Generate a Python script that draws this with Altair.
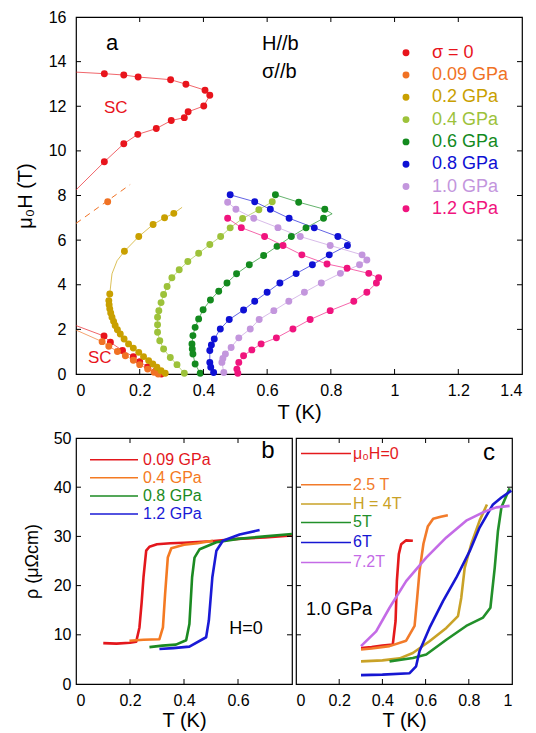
import pandas as pd
import altair as alt

FONT = "Liberation Sans"

# ---------------- panel a : H-T diagram for each uniaxial stress ----------------
SERIES_A = ["σ = 0", "0.09 GPa", "0.2 GPa", "0.4 GPa", "0.6 GPa", "0.8 GPa", "1.0 GPa", "1.2 GPa"]
COLORS_A = ["#e8141c", "#f07224", "#c9a000", "#9dc23a", "#138a1e", "#0e10d4", "#c396dd", "#f0147e"]

# sigma = 0, upper branch (curve runs on to the T = 0 axis at both ends)
s0_up_T = [0.0, 0.089, 0.150, 0.195, 0.297, 0.345, 0.405, 0.420, 0.401, 0.352, 0.340, 0.299, 0.252, 0.194, 0.150, 0.089, 0.0]
s0_up_H = [13.53, 13.46, 13.40, 13.31, 13.19, 12.99, 12.72, 12.49, 12.01, 11.75, 11.49, 11.36, 11.00, 10.74, 10.32, 9.51, 8.25]
s0_up_dot = [0] + [1] * 15 + [0]
# sigma = 0, low field branch
s0_lo_T = [0.0, 0.088, 0.108, 0.146, 0.180, 0.200, 0.225, 0.250, 0.268]
s0_lo_H = [2.17, 1.70, 1.42, 1.05, 0.78, 0.55, 0.32, 0.12, 0.0]
s0_lo_dot = [0] + [1] * 8
# 0.09 GPa
s1_lo_T = [0.0, 0.082, 0.103, 0.130, 0.155, 0.180, 0.200, 0.225, 0.245, 0.258]
s1_lo_H = [1.97, 1.45, 1.24, 1.01, 0.82, 0.62, 0.42, 0.22, 0.08, 0.0]
s1_lo_dot = [0] + [1] * 9
s1_dash_T = [0.0, 0.170]
s1_dash_H = [6.75, 8.49]
s1_pt_T = [0.0995]
s1_pt_H = [7.72]
# 0.2 GPa
s2_T = [0.333, 0.307, 0.278, 0.242, 0.197, 0.152, 0.129, 0.113, 0.106, 0.103, 0.104, 0.106, 0.109, 0.113, 0.118,
        0.123, 0.130, 0.139, 0.151, 0.165, 0.180, 0.197, 0.212, 0.228, 0.241, 0.254, 0.267, 0.280]
s2_H = [7.47, 7.20, 7.00, 6.70, 6.16, 5.50, 5.08, 4.49, 3.59, 3.29, 3.10, 2.92, 2.73, 2.54, 2.36,
        2.17, 1.98, 1.79, 1.57, 1.35, 1.16, 0.97, 0.78, 0.60, 0.45, 0.30, 0.15, 0.03]
s2_dot = [0, 1, 1, 1, 1, 1, 0, 0] + [1] * 20
# 0.4 GPa
s3_T = [0.616, 0.574, 0.523, 0.484, 0.454, 0.420, 0.385, 0.351, 0.324, 0.301, 0.286, 0.275, 0.267, 0.260,
        0.256, 0.256, 0.256, 0.263, 0.275, 0.296, 0.317, 0.340]
s3_H = [7.72, 7.36, 6.97, 6.55, 6.16, 5.80, 5.41, 5.04, 4.67, 4.31, 3.92, 3.56, 3.20, 2.84,
        2.54, 2.21, 1.87, 1.49, 1.12, 0.74, 0.42, 0.03]
# 0.6 GPa
s4_T = [0.626, 0.699, 0.781, 0.804, 0.777, 0.722, 0.676, 0.631, 0.589, 0.544, 0.504, 0.474, 0.448, 0.422,
        0.399, 0.385, 0.374, 0.367, 0.364, 0.365, 0.367, 0.374, 0.390]
s4_H = [8.03, 7.70, 7.38, 7.18, 6.98, 6.55, 6.16, 5.72, 5.31, 4.90, 4.49, 4.08, 3.71, 3.32,
        2.88, 2.47, 2.09, 1.72, 1.35, 1.12, 0.90, 0.45, 0.03]
s4_dot = [1, 1, 1, 0] + [1] * 19
# 0.8 GPa
s5_T = [0.484, 0.561, 0.610, 0.669, 0.748, 0.822, 0.861, 0.852, 0.795, 0.742, 0.691, 0.640, 0.600, 0.561,
        0.526, 0.481, 0.453, 0.434, 0.425, 0.420, 0.420, 0.423, 0.432]
s5_H = [8.03, 7.72, 7.38, 6.98, 6.55, 6.16, 5.90, 5.76, 5.34, 4.90, 4.50, 4.08, 3.66, 3.26,
        2.87, 2.44, 2.02, 1.57, 1.30, 1.05, 0.52, 0.30, 0.07]
s5_dot = [1] * 6 + [0] + [1] * 16
# 1.0 GPa
s6_T = [0.476, 0.502, 0.558, 0.634, 0.704, 0.798, 0.898, 0.913, 0.890, 0.830, 0.770, 0.717, 0.668, 0.621,
        0.575, 0.547, 0.511, 0.487, 0.469, 0.461, 0.458, 0.464]
s6_H = [7.70, 7.38, 6.98, 6.56, 6.16, 5.76, 5.34, 5.11, 4.90, 4.51, 4.08, 3.66, 3.26, 2.84,
        2.44, 2.02, 1.62, 1.19, 0.90, 0.70, 0.52, 0.07]
# 1.2 GPa
s7_T = [0.476, 0.519, 0.592, 0.650, 0.709, 0.788, 0.851, 0.919, 0.950, 0.943, 0.913, 0.872, 0.798, 0.735,
        0.681, 0.629, 0.581, 0.552, 0.526, 0.511, 0.505, 0.508]
s7_H = [6.98, 6.56, 6.16, 5.76, 5.34, 4.93, 4.74, 4.51, 4.31, 4.08, 3.66, 3.26, 2.84, 2.44,
        2.02, 1.62, 1.35, 1.08, 0.82, 0.52, 0.22, 0.03]

A_XTICKS = [0, 0.2, 0.4, 0.6, 0.8, 1.0, 1.2, 1.4]
A_YTICKS = [0, 2, 4, 6, 8, 10, 12, 14, 16]

# ---------------- panel b : rho(T) at H = 0 for several stresses ----------------
SERIES_B = ["0.09 GPa", "0.4 GPa", "0.8 GPa", "1.2 GPa"]
COLORS_B = ["#e3171d", "#f47a22", "#1b8a22", "#1a1ad6"]
b0_T = [0.101, 0.150, 0.200, 0.223, 0.235, 0.243, 0.250, 0.260, 0.272, 0.300, 0.350, 0.400, 0.500, 0.600, 0.700, 0.800]
b0_R = [8.3, 8.2, 8.4, 8.6, 11.5, 16.5, 21.7, 27.1, 27.9, 28.4, 28.6, 28.7, 29.0, 29.5, 29.8, 30.2]
b1_T = [0.198, 0.250, 0.309, 0.322, 0.330, 0.340, 0.353, 0.400, 0.450, 0.507]
b1_R = [8.8, 9.0, 9.1, 11.5, 18.3, 25.7, 27.6, 28.3, 28.6, 29.1]
b2_T = [0.272, 0.320, 0.370, 0.408, 0.420, 0.430, 0.439, 0.458, 0.520, 0.600, 0.700, 0.800]
b2_R = [7.5, 7.8, 8.0, 8.9, 12.2, 21.7, 25.7, 27.4, 28.8, 29.5, 30.0, 30.5]
b3_T = [0.309, 0.360, 0.420, 0.482, 0.492, 0.505, 0.520, 0.544, 0.606, 0.680]
b3_R = [7.1, 7.3, 7.6, 9.5, 12.9, 21.7, 27.1, 29.1, 30.4, 31.3]

# ---------------- panel c : rho(T) at 1.0 GPa for several fields ----------------
SERIES_C = ["μ₀H=0", "2.5 T", "H = 4T", "5T", "6T", "7.2T"]
COLORS_C = ["#e41a1c", "#f27b2a", "#c9a227", "#22902a", "#1616d2", "#c46be6"]
c0_T = [0.301, 0.350, 0.400, 0.448, 0.461, 0.467, 0.476, 0.487, 0.510, 0.541]
c0_R = [7.3, 7.5, 7.8, 8.0, 12.8, 20.9, 26.4, 28.4, 29.2, 29.1]
c1_T = [0.301, 0.350, 0.433, 0.510, 0.549, 0.560, 0.572, 0.590, 0.610, 0.635, 0.670, 0.703]
c1_R = [7.0, 7.2, 7.7, 8.8, 11.8, 17.0, 23.0, 28.5, 32.0, 33.6, 34.0, 34.3]
c2_T = [0.301, 0.400, 0.480, 0.541, 0.618, 0.696, 0.750, 0.765, 0.781, 0.811, 0.850, 0.884]
c2_R = [4.6, 4.8, 5.2, 6.3, 8.7, 11.4, 13.8, 17.5, 23.6, 28.4, 33.2, 36.5]
c3_T = [0.433, 0.541, 0.603, 0.696, 0.788, 0.866, 0.900, 0.920, 0.935, 0.951, 0.989]
c3_R = [4.6, 5.3, 6.0, 9.0, 11.8, 13.5, 15.5, 23.6, 31.1, 35.9, 39.8]
c4_T = [0.301, 0.400, 0.526, 0.556, 0.572, 0.618, 0.680, 0.742, 0.804, 0.850, 0.912, 0.951, 0.997]
c4_R = [1.8, 1.9, 2.2, 3.6, 6.7, 11.4, 16.8, 21.6, 27.0, 31.8, 36.5, 37.9, 39.3]
c5_T = [0.301, 0.371, 0.433, 0.510, 0.603, 0.696, 0.788, 0.866, 0.927, 0.989]
c5_R = [7.7, 10.7, 15.5, 20.9, 25.7, 29.8, 33.2, 34.9, 35.9, 36.2]

R_TICKS = [0, 10, 20, 30, 40, 50]


def branch(series, name, T, V, dots=None):
    if dots is None:
        dots = [1] * len(T)
    return pd.DataFrame({"s": series, "b": name, "i": range(len(T)), "T": T, "V": V, "dot": dots})


def note(text, x, y, size, color="black", align="left"):
    return alt.Chart(pd.DataFrame({"t": [text]})).mark_text(
        align=align, baseline="middle", fontSize=size, font=FONT, color=color
    ).encode(text="t:N", x=alt.value(x), y=alt.value(y))


def inner_ticks(X, Y, xt, yt, w, h):
    # inward ticks on every side of the frame, as in the figure
    dx = pd.DataFrame({"v": xt})
    dy = pd.DataFrame({"v": yt})
    return [
        alt.Chart(dx).mark_rule(color="black").encode(x=X("v"), y=alt.value(h), y2=alt.value(h - 5)),
        alt.Chart(dx).mark_rule(color="black").encode(x=X("v"), y=alt.value(0), y2=alt.value(5)),
        alt.Chart(dy).mark_rule(color="black").encode(y=Y("v"), x=alt.value(0), x2=alt.value(5)),
        alt.Chart(dy).mark_rule(color="black").encode(y=Y("v"), x=alt.value(w), x2=alt.value(w - 5)),
    ]


# ---------------- build panel a ----------------
WA, HA = 446, 357
dfa = pd.concat([
    branch(SERIES_A[0], "s0u", s0_up_T, s0_up_H, s0_up_dot),
    branch(SERIES_A[0], "s0l", s0_lo_T, s0_lo_H, s0_lo_dot),
    branch(SERIES_A[1], "s1l", s1_lo_T, s1_lo_H, s1_lo_dot),
    branch(SERIES_A[1], "s1p", s1_pt_T, s1_pt_H),
    branch(SERIES_A[2], "s2", s2_T, s2_H, s2_dot),
    branch(SERIES_A[3], "s3", s3_T, s3_H),
    branch(SERIES_A[4], "s4", s4_T, s4_H, s4_dot),
    branch(SERIES_A[5], "s5", s5_T, s5_H, s5_dot),
    branch(SERIES_A[6], "s6", s6_T, s6_H),
    branch(SERIES_A[7], "s7", s7_T, s7_H),
], ignore_index=True)
dash_a = pd.DataFrame({"T": s1_dash_T, "V": s1_dash_H})


def XA(f):
    return alt.X(f"{f}:Q", scale=alt.Scale(domain=[0, 1.4], nice=False),
                 axis=alt.Axis(values=A_XTICKS, format="~g", title="T (K)", labelFontSize=16,
                               labelPadding=8, titleFontSize=20, titlePadding=4))


def YA(f):
    return alt.Y(f"{f}:Q", scale=alt.Scale(domain=[0, 16], nice=False),
                 axis=alt.Axis(values=A_YTICKS, title="μ₀H (T)", labelFontSize=16,
                               labelPadding=10, titleFontSize=20, titlePadding=13))


col_a = alt.Color("sa:N", scale=alt.Scale(domain=SERIES_A, range=COLORS_A), legend=None)
dfa = dfa.rename(columns={"s": "sa"})
lines_a = alt.Chart(dfa).mark_line(strokeWidth=1, opacity=0.65).encode(
    x=XA("T"), y=YA("V"), color=col_a, detail="b:N", order="i:Q")
dots_a = alt.Chart(dfa).transform_filter("datum.dot == 1").mark_circle(size=48, opacity=1).encode(
    x=XA("T"), y=YA("V"), color=col_a)
dashed_a = alt.Chart(dash_a).mark_line(strokeWidth=1, strokeDash=[6, 5], color=COLORS_A[1]).encode(
    x=XA("T"), y=YA("V"))

layers_a = [lines_a, dashed_a, dots_a]
layers_a += inner_ticks(XA, YA, A_XTICKS[1:-1], A_YTICKS[1:-1], WA, HA)
layers_a += [
    note("a", 36, 26, 22, align="center"),
    note("H//b", 186, 27, 20),
    note("σ//b", 186, 55, 20),
    note("SC", 28, 91, 17, COLORS_A[0]),
    note("SC", 12, 341, 17, COLORS_A[0]),
]
for k, (lab, col) in enumerate(zip(SERIES_A, COLORS_A)):
    yk = 35.7 + 22.3 * k
    layers_a.append(alt.Chart(pd.DataFrame({"t": [lab]})).mark_circle(size=48, opacity=1, color=col).encode(
        x=alt.value(330), y=alt.value(yk)))
    layers_a.append(note(lab, 356, yk, 18, col))

panel_a = alt.layer(*layers_a).properties(width=WA, height=HA)

# ---------------- build panels b and c ----------------
WB, HB = 216, 246


def XB(f, vals, maxT):
    return alt.X(f"{f}:Q", scale=alt.Scale(domain=[0, maxT], nice=False),
                 axis=alt.Axis(values=vals, format="~g", title="T (K)", labelFontSize=16,
                               labelPadding=8, titleFontSize=20, titlePadding=2))


def YB(f, show):
    if show:
        ax = alt.Axis(values=R_TICKS, title="ρ (μΩcm)", labelFontSize=16, labelPadding=5,
                      titleFontSize=18, titlePadding=12)
    else:
        ax = alt.Axis(values=R_TICKS, title=None, labels=False)
    return alt.Y(f"{f}:Q", scale=alt.Scale(domain=[0, 50], nice=False), axis=ax)


def rho_panel(key, frames, series, colors, xvals, maxT, show_y, legend_rows, line_x, text_x, extra):
    df = pd.concat(frames, ignore_index=True).rename(columns={"s": key})

    def X(f):
        return XB(f, xvals, maxT)

    def Y(f):
        return YB(f, show_y)

    col = alt.Color(f"{key}:N", scale=alt.Scale(domain=series, range=colors), legend=None)
    lines = alt.Chart(df).mark_line(strokeWidth=2.6, strokeJoin="round").encode(
        x=X("T"), y=Y("V"), color=col, detail="b:N", order="i:Q")
    layers = [lines]
    ticks_x = [t for t in [0.2, 0.4, 0.6, 0.8] if t < maxT]
    layers += inner_ticks(X, Y, ticks_x, R_TICKS[1:-1], WB, HB)
    for lab, c, yk in zip(series, colors, legend_rows):
        layers.append(alt.Chart(pd.DataFrame({"t": [lab]})).mark_rule(color=c, strokeWidth=1.5).encode(
            x=alt.value(line_x[0]), x2=alt.value(line_x[1]), y=alt.value(yk)))
        layers.append(note(lab, text_x, yk, 16, c))
    layers += extra
    return alt.layer(*layers).properties(width=WB, height=HB)


panel_b = rho_panel(
    "sb",
    [branch(SERIES_B[0], "b0", b0_T, b0_R), branch(SERIES_B[1], "b1", b1_T, b1_R),
     branch(SERIES_B[2], "b2", b2_T, b2_R), branch(SERIES_B[3], "b3", b3_T, b3_R)],
    SERIES_B, COLORS_B, [0, 0.2, 0.4, 0.6], 0.8, True,
    [21.7, 39.8, 57.9, 76.0], (14, 62), 67,
    [note("b", 192, 13, 24, align="center"), note("H=0", 170, 191, 18, align="center")],
)

panel_c = rho_panel(
    "sc",
    [branch(SERIES_C[0], "c0", c0_T, c0_R), branch(SERIES_C[1], "c1", c1_T, c1_R),
     branch(SERIES_C[2], "c2", c2_T, c2_R), branch(SERIES_C[3], "c3", c3_T, c3_R),
     branch(SERIES_C[4], "c4", c4_T, c4_R), branch(SERIES_C[5], "c5", c5_T, c5_R)],
    SERIES_C, COLORS_C, [0, 0.2, 0.4, 0.6, 0.8, 1.0], 1.0, False,
    [15.5, 46.7, 66.0, 84.4, 104.4, 124.4], (5, 55), 57,
    [note("c", 193, 15, 24, align="center"), note("1.0 GPa", 10, 172, 18)],
)

bottom = alt.hconcat(panel_b, panel_c, spacing=4, bounds="flush").resolve_scale(color="independent")
chart = alt.vconcat(panel_a, bottom, spacing=64, bounds="flush").resolve_scale(
    color="independent"
).properties(
    padding={"left": 6, "top": 0, "right": 0, "bottom": 0}
).configure_view(
    stroke="black", strokeWidth=1.2
).configure_axis(
    grid=False, domain=False, ticks=False, tickSize=0, labelFont=FONT, titleFont=FONT,
    labelColor="black", titleColor="black", titleFontWeight="normal"
)

chart.save("out.html", embed_options={"renderer": "svg", "actions": False})
